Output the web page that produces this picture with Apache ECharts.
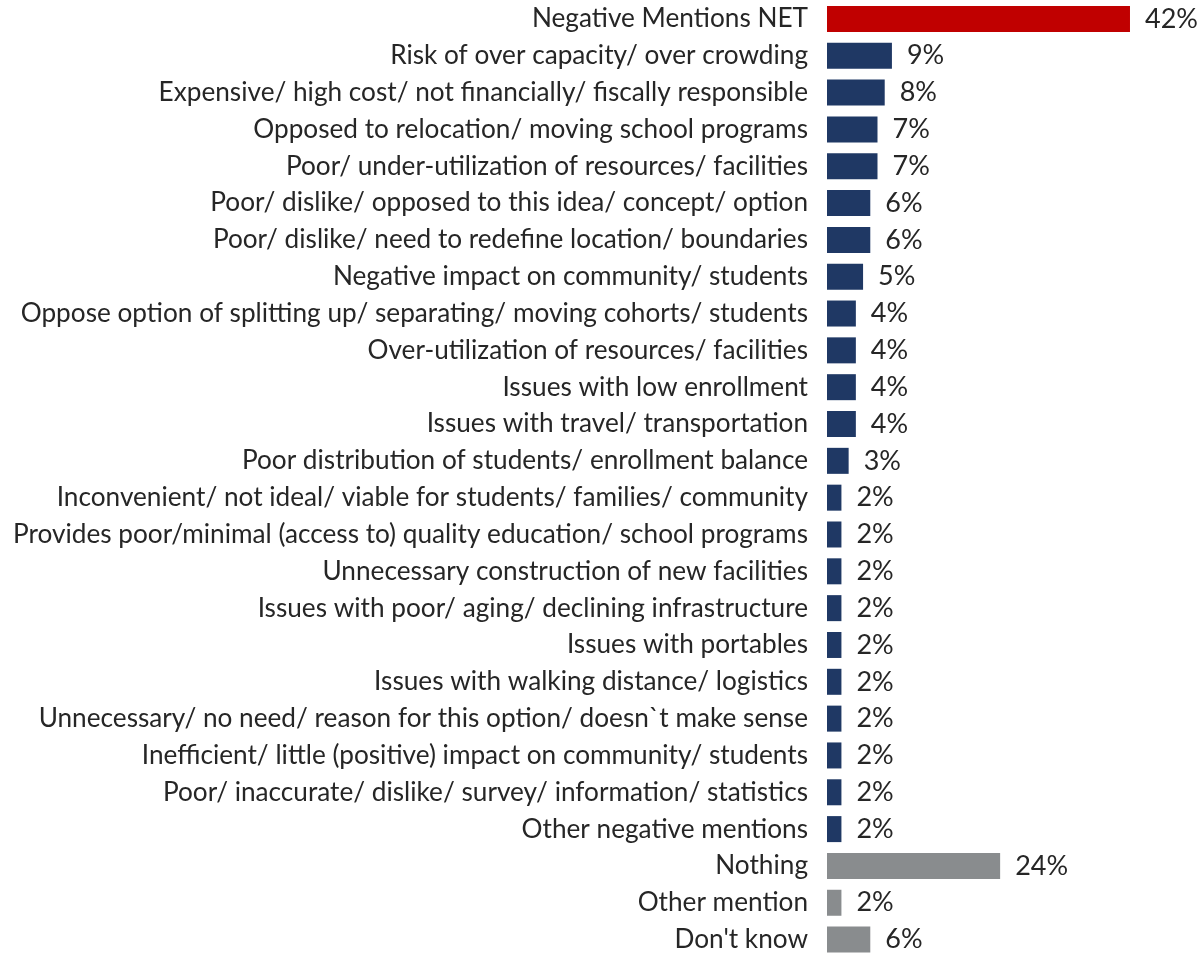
<!DOCTYPE html>
<html><head><meta charset="utf-8">
<script src="https://cdn.jsdelivr.net/npm/echarts@6/dist/echarts.min.js"></script>
<style>html,body{margin:0;padding:0;background:#fff}#c{width:1202px;height:958px}</style>
</head><body><div id="c"></div>
<script>
const categories = [
  "Negative Mentions NET",
  "Risk of over capacity/ over crowding",
  "Expensive/ high cost/ not financially/ fiscally responsible",
  "Opposed to relocation/ moving school programs",
  "Poor/ under-utilization of resources/ facilities",
  "Poor/ dislike/ opposed to this idea/ concept/ option",
  "Poor/ dislike/ need to redefine location/ boundaries",
  "Negative impact on community/ students",
  "Oppose option of splitting up/ separating/ moving cohorts/ students",
  "Over-utilization of resources/ facilities",
  "Issues with low enrollment",
  "Issues with travel/ transportation",
  "Poor distribution of students/ enrollment balance",
  "Inconvenient/ not ideal/ viable for students/ families/ community",
  "Provides poor/minimal (access to) quality education/ school programs",
  "Unnecessary construction of new facilities",
  "Issues with poor/ aging/ declining infrastructure",
  "Issues with portables",
  "Issues with walking distance/ logistics",
  "Unnecessary/ no need/ reason for this option/ doesn`t make sense",
  "Inefficient/ little (positive) impact on community/ students",
  "Poor/ inaccurate/ dislike/ survey/ information/ statistics",
  "Other negative mentions",
  "Nothing",
  "Other mention",
  "Don't know"
];
const values = [42, 9, 8, 7, 7, 6, 6, 5, 4, 4, 4, 4, 3, 2, 2, 2, 2, 2, 2, 2, 2, 2, 2, 24, 2, 6];
const groups = ["net","neg","neg","neg","neg","neg","neg","neg","neg","neg","neg","neg","neg","neg","neg","neg","neg","neg","neg","neg","neg","neg","neg","other","other","other"];
const groupColors = {net: "#C00000", neg: "#1F3864", other: "#898C8E"};

const chart = echarts.init(document.getElementById('c'));
const FONT = 'Lato';
chart.setOption({
  animation: false,
  grid: {left: 827, top: 0.5, width: 360.7, height: 965, containLabel: false},
  xAxis: {type: 'value', min: 0, max: 50, show: false},
  yAxis: {
    type: 'category', data: categories, inverse: true,
    axisLine: {show: false}, axisTick: {show: false},
    axisLabel: {margin: 19, fontFamily: FONT, fontSize: 26.2, color: '#262626'}
  },
  series: [{
    type: 'bar', barWidth: 26,
    data: values.map((v, i) => ({value: v, itemStyle: {color: groupColors[groups[i]]}})),
    label: {show: true, position: 'right', distance: 15, formatter: '{c}%', fontFamily: FONT, fontSize: 27, color: '#262626'}
  }]
});
</script></body></html>
